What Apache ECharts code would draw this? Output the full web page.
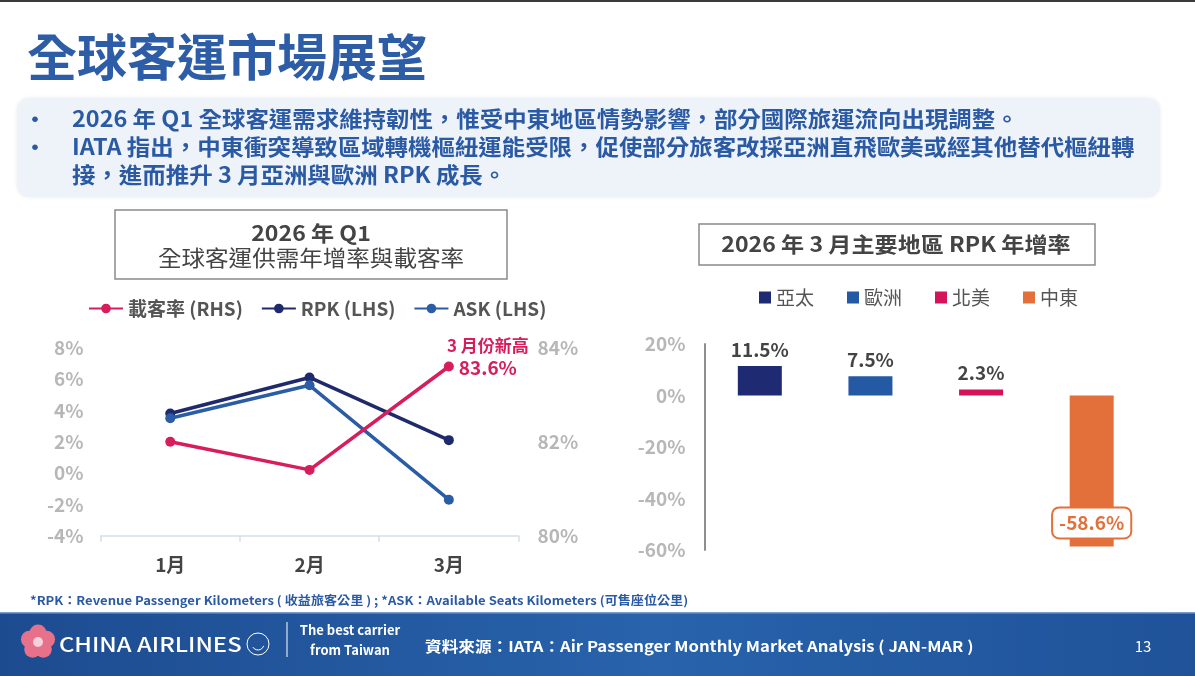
<!DOCTYPE html>
<html>
<head>
<meta charset="utf-8">
<script src="https://cdn.jsdelivr.net/npm/echarts@6/dist/echarts.min.js"></script>
<style>
html,body{margin:0;padding:0;background:#fff;}
#c{width:1195px;height:676px;}
</style>
</head>
<body>
<div id="c"></div>
<script>
// ---- data ----
const months = ['1月', '2月', '3月'];
const loadFactor = [82.0, 81.4, 83.6];   // 載客率 (RHS)
const rpkYoY = [3.8, 6.1, 2.1];          // RPK (LHS)
const askYoY = [3.5, 5.6, -1.7];         // ASK (LHS)
const lineNames = ['載客率 (RHS)', 'RPK (LHS)', 'ASK (LHS)'];
const lineColors = ['#d71d5b', '#1e2a6c', '#2b5da6'];

const regions = ['亞太', '歐洲', '北美', '中東'];
const rpkGrowthMar = [11.5, 7.5, 2.3, -58.6];
const regionColors = ['#1e2b72', '#2459a3', '#d4145a', '#e3703b'];

const bulletLines = [
  '2026 年 Q1 全球客運需求維持韌性，惟受中東地區情勢影響，部分國際旅運流向出現調整。',
  'IATA 指出，中東衝突導致區域轉機樞紐運能受限，促使部分旅客改採亞洲直飛歐美或經其他替代樞紐轉',
  '接，進而推升 3 月亞洲與歐洲 RPK 成長。'
];

const FONT = '"Noto Sans CJK TC", "Noto Sans", sans-serif';
const chart = echarts.init(document.getElementById('c'), null, {renderer: 'canvas'});

const lineSeries = [
  {name: lineNames[0], data: loadFactor, yAxisIndex: 1, color: lineColors[0]},
  {name: lineNames[1], data: rpkYoY, yAxisIndex: 0, color: lineColors[1]},
  {name: lineNames[2], data: askYoY, yAxisIndex: 0, color: lineColors[2]}
].map((s, k) => ({
  type: 'line', name: s.name, xAxisIndex: 0, yAxisIndex: s.yAxisIndex,
  data: s.data.map((v, i) => {
    if (k === 0 && i === s.data.length - 1) {
      return {
        value: v,
        label: {
          show: true, position: 'inside', offset: [39, -10],
          align: 'center', verticalAlign: 'middle',
          formatter: (p) => '{a|3 月份新高}\n{b|' + p.value.toFixed(1) + '%}',
          rich: {
            a: {fontFamily: FONT, fontSize: 17, fontWeight: 'bold', color: '#d71d5b', lineHeight: 22, align: 'center'},
            b: {fontFamily: FONT, fontSize: 19, fontWeight: 'bold', color: '#d71d5b', lineHeight: 22, align: 'center'}
          }
        }
      };
    }
    return v;
  }),
  symbol: 'circle', symbolSize: 10,
  lineStyle: {width: 3.5, color: s.color},
  itemStyle: {color: s.color},
  z: k === 0 ? 4 : 3
}));

const barSeries = regions.map((r, i) => ({
  type: 'bar', name: r, xAxisIndex: 1, yAxisIndex: 2, stack: 'rpk',
  barWidth: 44,
  data: regions.map((_, j) => (j === i ? rpkGrowthMar[i] : '-')),
  itemStyle: {color: regionColors[i]},
  label: rpkGrowthMar[i] >= 0 ? {
    show: true, position: 'top', distance: 7,
    fontFamily: FONT, fontSize: 19, fontWeight: 'bold', color: '#444',
    formatter: (p) => p.value.toFixed(1) + '%'
  } : {
    show: true, position: 'insideBottom', distance: 9,
    fontFamily: FONT, fontSize: 19, fontWeight: 'bold', color: regionColors[i],
    backgroundColor: '#fff', borderColor: regionColors[i], borderWidth: 2,
    borderRadius: 6, padding: [5, 6, 5, 6],
    formatter: (p) => p.value.toFixed(1) + '%'
  }
}));

function txt(x, y, text, font, fill, opts) {
  const o = opts || {};
  return {
    type: 'text', x: x, y: y, scaleX: o.sx || 1, scaleY: 1,
    style: {text: text, font: font, fill: fill, align: o.align || 'left', verticalAlign: 'middle'}
  };
}

const graphics = [
  {type: 'rect', shape: {x: 0, y: 0, width: 1195, height: 2}, style: {fill: '#3a3a3a'}},
  txt(27, 57, '全球客運市場展望', 'bold 50px ' + FONT, '#2d5da6'),
  {type: 'rect', shape: {x: 17, y: 98, width: 1143, height: 99, r: 12},
   style: {fill: '#eef2f9', shadowBlur: 4, shadowColor: 'rgba(0,0,0,0.08)'}},
  txt(35, 119, '•', 'bold 22px ' + FONT, '#2b5aa5', {align: 'center'}),
  txt(35, 147, '•', 'bold 22px ' + FONT, '#2b5aa5', {align: 'center'}),
  txt(72, 119, bulletLines[0], 'bold 22px ' + FONT, '#2b5aa5', {sx: 1.065}),
  txt(72, 147, bulletLines[1], 'bold 22px ' + FONT, '#2b5aa5', {sx: 1.065}),
  txt(72, 175, bulletLines[2], 'bold 22px ' + FONT, '#2b5aa5', {sx: 1.065}),
  // left chart title box
  {type: 'rect', shape: {x: 115, y: 210, width: 392, height: 69}, style: {fill: '#fff', stroke: '#8a8a8a', lineWidth: 1.5}},
  txt(311, 233, '2026 年 Q1', 'bold 21px ' + FONT, '#444', {align: 'center', sx: 1.1}),
  txt(311, 258, '全球客運供需年增率與載客率', '22px ' + FONT, '#444', {align: 'center', sx: 1.07}),
  // right chart title box
  {type: 'rect', shape: {x: 699, y: 224, width: 396, height: 41}, style: {fill: '#fff', stroke: '#8a8a8a', lineWidth: 1.5}},
  txt(896, 244, '2026 年 3 月主要地區 RPK 年增率', 'bold 21px ' + FONT, '#444', {align: 'center', sx: 1.1}),
  // footnote
  txt(30, 600, '*RPK：Revenue Passenger Kilometers ( 收益旅客公里 ) ; *ASK：Available Seats Kilometers (可售座位公里)', 'bold 12px ' + FONT, '#2b5aa5', {sx: 1.09}),
  // footer band
  {type: 'rect', shape: {x: 0, y: 613, width: 1195, height: 63},
   style: {fill: new echarts.graphic.LinearGradient(0, 0, 1, 0, [
     {offset: 0, color: '#1d4b90'}, {offset: 0.55, color: '#2863ab'}, {offset: 1, color: '#1f5299'}])}},
  {type: 'rect', shape: {x: 0, y: 612, width: 1195, height: 1.5}, style: {fill: '#7d9fcf'}},
  // plum blossom logo
  ...[0, 1, 2, 3, 4].map((k) => {
    const a = -Math.PI / 2 + k * 2 * Math.PI / 5;
    return {type: 'circle', shape: {cx: 38 + 9 * Math.cos(a), cy: 642 + 9 * Math.sin(a), r: 8.5}, style: {fill: '#e7718a'}};
  }),
  {type: 'circle', shape: {cx: 38, cy: 642, r: 5}, style: {fill: '#f7d1da'}},
  txt(59, 644, 'CHINA AIRLINES', '500 20px ' + FONT, '#fff', {sx: 1.19}),
  {type: 'circle', shape: {cx: 258, cy: 644, r: 11}, style: {fill: 'none', stroke: '#fff', lineWidth: 1}},
  {type: 'arc', shape: {cx: 258, cy: 644, r: 6, startAngle: 0.3, endAngle: 2.6}, style: {fill: 'none', stroke: '#fff', lineWidth: 1}},
  {type: 'line', shape: {x1: 287, y1: 622, x2: 287, y2: 657}, style: {stroke: '#fff', lineWidth: 1}},
  txt(350, 630, 'The best carrier', 'bold 13px ' + FONT, '#fff', {align: 'center'}),
  txt(350, 650, 'from Taiwan', 'bold 13px ' + FONT, '#fff', {align: 'center'}),
  txt(425, 646, '資料來源：IATA：Air Passenger Monthly Market Analysis ( JAN-MAR )', 'bold 15px ' + FONT, '#fff', {sx: 1.11}),
  txt(1143, 646, '13', '15px ' + FONT, '#fff', {align: 'center'})
];

const axisLabelGray = {fontFamily: FONT, fontSize: 19, fontWeight: 'bold', color: '#b7b7b7'};

chart.setOption({
  backgroundColor: '#fff',
  animation: false,
  textStyle: {fontFamily: FONT},
  graphic: graphics,
  legend: [
    {
      data: lineNames, left: 88, top: 299, padding: 0, itemWidth: 34, itemHeight: 12, itemGap: 18,
      textStyle: {fontFamily: FONT, fontSize: 19, fontWeight: 'bold', color: '#555'}
    },
    {
      data: regions, left: 759, top: 288, padding: 0, icon: 'rect', itemWidth: 12, itemHeight: 12, itemGap: 33,
      textStyle: {fontFamily: FONT, fontSize: 19, color: '#555'}
    }
  ],
  grid: [
    {left: 100.6, right: 676.5, top: 347.7, bottom: 140.3},
    {left: 704.5, right: 48, top: 344, bottom: 126}
  ],
  xAxis: [
    {
      type: 'category', gridIndex: 0, data: months, boundaryGap: true,
      axisLine: {onZero: false, lineStyle: {color: '#d3deeb', width: 1.5}},
      axisTick: {show: true, length: 6, lineStyle: {color: '#d3deeb', width: 1.5}},
      axisLabel: {fontFamily: FONT, fontSize: 19, fontWeight: 'bold', color: '#444', margin: 20}
    },
    {
      type: 'category', gridIndex: 1, data: regions,
      axisLine: {show: false}, axisTick: {show: false}, axisLabel: {show: false}
    }
  ],
  yAxis: [
    {
      type: 'value', gridIndex: 0, min: -4, max: 8, interval: 2,
      axisLine: {show: false}, axisTick: {show: false}, splitLine: {show: false},
      axisLabel: Object.assign({formatter: '{value}%', margin: 17}, axisLabelGray)
    },
    {
      type: 'value', gridIndex: 0, position: 'right', min: 80, max: 84, interval: 2,
      axisLine: {show: false}, axisTick: {show: false}, splitLine: {show: false},
      axisLabel: Object.assign({formatter: '{value}%', margin: 19}, axisLabelGray)
    },
    {
      type: 'value', gridIndex: 1, min: -60, max: 20, interval: 20,
      axisLine: {show: true, lineStyle: {color: '#8f8f8f', width: 2}},
      axisTick: {show: false}, splitLine: {show: false},
      axisLabel: Object.assign({formatter: '{value}%', margin: 19}, axisLabelGray)
    }
  ],
  series: lineSeries.concat(barSeries)
});
</script>
</body>
</html>
